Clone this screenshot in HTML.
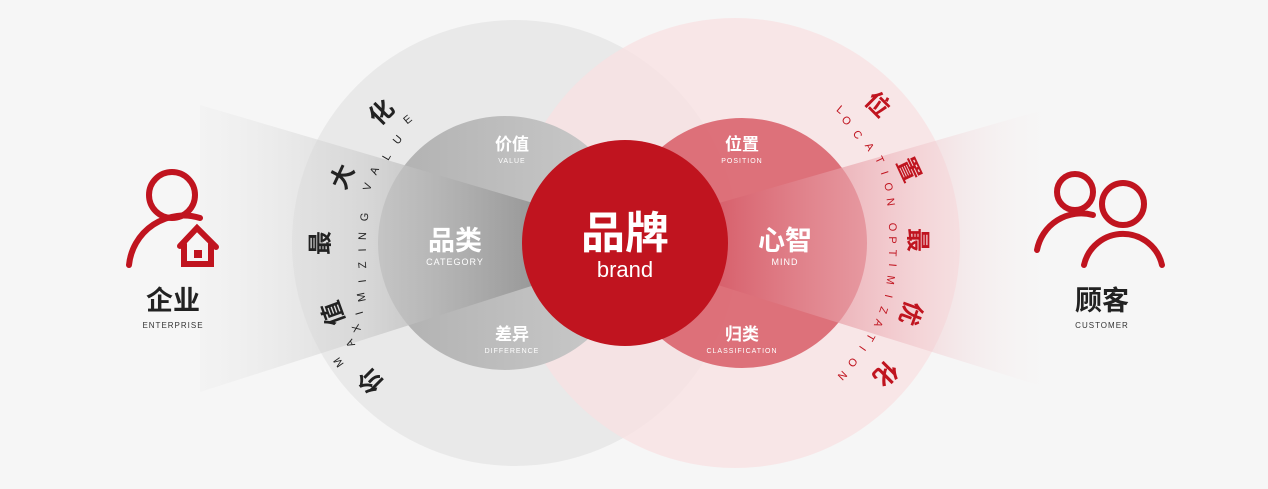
<!DOCTYPE html>
<html><head><meta charset="utf-8"><style>
html,body{margin:0;padding:0;background:#f6f6f6}
svg{display:block}
text{font-family:"Liberation Sans","Noto Sans CJK SC",sans-serif}
.cj{font-family:"Noto Sans CJK SC","WenQuanYi Zen Hei",sans-serif;font-weight:bold}
</style></head><body>
<svg width="1268" height="489" viewBox="0 0 1268 489" xmlns="http://www.w3.org/2000/svg">
<defs>
<linearGradient id="lf" x1="200" x2="625" y1="0" y2="0" gradientUnits="userSpaceOnUse">
<stop offset="0" stop-color="#e6e6e6" stop-opacity="0.2"/>
<stop offset="0.4" stop-color="#cfcfcf" stop-opacity="0.8"/>
<stop offset="1" stop-color="#6e6e6e"/>
</linearGradient>
<linearGradient id="rf" x1="1060" x2="625" y1="0" y2="0" gradientUnits="userSpaceOnUse">
<stop offset="0" stop-color="#f6f6f6" stop-opacity="0"/>
<stop offset="0.4" stop-color="#eeb8be" stop-opacity="0.8"/>
<stop offset="1" stop-color="#c82838"/>
</linearGradient>
<linearGradient id="gc" x1="0" x2="1" y1="0" y2="0">
<stop offset="0" stop-color="#b0b0b0"/>
<stop offset="1" stop-color="#cbcbcb"/>
</linearGradient>
</defs>
<rect width="1268" height="489" fill="#f6f6f6"/>
<circle cx="515" cy="243" r="223" fill="#e6e6e6" opacity="0.85"/>
<circle cx="735" cy="243" r="225" fill="#f9dfe1" opacity="0.7"/>
<circle cx="505" cy="243" r="127" fill="url(#gc)"/>
<circle cx="742" cy="243" r="125" fill="#d85c66" opacity="0.85"/>
<polygon points="200,105 625,230 625,256 200,392" fill="url(#lf)" opacity="0.9"/>
<polygon points="1060,105 625,230 625,256 1060,392" fill="url(#rf)" opacity="0.8"/>
<circle cx="625" cy="243" r="103" fill="#c0141f"/>

<!-- left icon -->
<g fill="none" stroke="#c0141f" stroke-width="6" stroke-linecap="round">
<circle cx="172" cy="195" r="23"/>
<path d="M129,265 A55,55 0 0 1 200,218"/>
<path d="M180,246 L197,228 L216,247 M184,244 V264 H211 V244"/>
</g>
<rect x="194" y="250" width="8" height="8" fill="#c0141f"/>
<text class="cj" x="173" y="310" font-size="27" text-anchor="middle" fill="#222">企业</text>
<text x="173" y="328" font-size="8" text-anchor="middle" fill="#333" letter-spacing="1">ENTERPRISE</text>

<!-- right icon -->
<g fill="none" stroke="#c0141f" stroke-width="6" stroke-linecap="round">
<circle cx="1075" cy="192" r="18"/>
<path d="M1037,250 A45,45 0 0 1 1093,215"/>
<circle cx="1123" cy="204" r="21"/>
<path d="M1084,265 A40,40 0 0 1 1162,265"/>
</g>
<text class="cj" x="1102" y="310" font-size="27" text-anchor="middle" fill="#222">顾客</text>
<text x="1102" y="328" font-size="8" text-anchor="middle" fill="#333" letter-spacing="1">CUSTOMER</text>

<!-- center -->
<text class="cj" x="625" y="248" font-size="44" text-anchor="middle" fill="#fff">品牌</text>
<text x="625" y="277" font-size="22" text-anchor="middle" fill="#fff">brand</text>
<text class="cj" x="455" y="250" font-size="27" text-anchor="middle" fill="#fff">品类</text>
<text x="455" y="265" font-size="9" text-anchor="middle" fill="#fff" letter-spacing="1">CATEGORY</text>
<text class="cj" x="785" y="250" font-size="27" text-anchor="middle" fill="#fff">心智</text>
<text x="785" y="265" font-size="9" text-anchor="middle" fill="#fff" letter-spacing="1">MIND</text>
<text class="cj" x="512" y="150" font-size="17" text-anchor="middle" fill="#fff">价值</text>
<text x="512" y="163" font-size="7" text-anchor="middle" fill="#fff" letter-spacing="1">VALUE</text>
<text class="cj" x="512" y="340" font-size="17" text-anchor="middle" fill="#fff">差异</text>
<text x="512" y="353" font-size="7" text-anchor="middle" fill="#fff" letter-spacing="1">DIFFERENCE</text>
<text class="cj" x="742" y="150" font-size="17" text-anchor="middle" fill="#fff">位置</text>
<text x="742" y="163" font-size="7" text-anchor="middle" fill="#fff" letter-spacing="1">POSITION</text>
<text class="cj" x="742" y="340" font-size="17" text-anchor="middle" fill="#fff">归类</text>
<text x="742" y="353" font-size="7" text-anchor="middle" fill="#fff" letter-spacing="1">CLASSIFICATION</text>

<!-- left ring text -->
<g class="cj" font-size="24" fill="#222" text-anchor="middle" dominant-baseline="central">
<text transform="translate(382,113) rotate(-45)">化</text>
<text transform="translate(343,177) rotate(-65)">大</text>
<text transform="translate(321,243) rotate(-90)">最</text>
<text transform="translate(334,313) rotate(-110)">值</text>
<text transform="translate(371,380) rotate(-135)">价</text>
</g>
<g font-size="11" fill="#222" text-anchor="middle" dominant-baseline="central">
<text transform="translate(408,120) rotate(-40)">E</text>
<text transform="translate(398,140) rotate(-50)">U</text>
<text transform="translate(387,157) rotate(-60)">L</text>
<text transform="translate(375,171) rotate(-65)">A</text>
<text transform="translate(368,187) rotate(-72)">V</text>
<text transform="translate(365,217) rotate(-85)">G</text>
<text transform="translate(363,236) rotate(-88)">N</text>
<text transform="translate(363,250) rotate(-92)">I</text>
<text transform="translate(363,265) rotate(-95)">Z</text>
<text transform="translate(363,281) rotate(-98)">I</text>
<text transform="translate(362,297) rotate(-102)">M</text>
<text transform="translate(360,313) rotate(-106)">I</text>
<text transform="translate(357,328) rotate(-112)">X</text>
<text transform="translate(351,343) rotate(-118)">A</text>
<text transform="translate(339,362) rotate(-125)">M</text>
</g>

<!-- right ring text -->
<g class="cj" font-size="24" fill="#c0141f" text-anchor="middle" dominant-baseline="central">
<text transform="translate(877,105) rotate(45)">位</text>
<text transform="translate(908,170) rotate(65)">置</text>
<text transform="translate(917,240) rotate(90)">最</text>
<text transform="translate(910,313) rotate(110)">优</text>
<text transform="translate(885,373) rotate(135)">化</text>
</g>
<g font-size="11" fill="#c0141f" text-anchor="middle" dominant-baseline="central">
<text transform="translate(840,110) rotate(40)">L</text>
<text transform="translate(846,121) rotate(45)">O</text>
<text transform="translate(857,135) rotate(52)">C</text>
<text transform="translate(869,147) rotate(58)">A</text>
<text transform="translate(879,160) rotate(65)">T</text>
<text transform="translate(884,173) rotate(72)">I</text>
<text transform="translate(888,187) rotate(78)">O</text>
<text transform="translate(890,202) rotate(82)">N</text>
<text transform="translate(892,227) rotate(88)">O</text>
<text transform="translate(892,240) rotate(90)">P</text>
<text transform="translate(892,253) rotate(92)">T</text>
<text transform="translate(892,265) rotate(95)">I</text>
<text transform="translate(890,280) rotate(98)">M</text>
<text transform="translate(888,296) rotate(103)">I</text>
<text transform="translate(883,310) rotate(108)">Z</text>
<text transform="translate(878,323) rotate(113)">A</text>
<text transform="translate(870,337) rotate(120)">T</text>
<text transform="translate(862,348) rotate(125)">I</text>
<text transform="translate(852,362) rotate(130)">O</text>
<text transform="translate(842,375) rotate(135)">N</text>
</g>
</svg>
</body></html>
